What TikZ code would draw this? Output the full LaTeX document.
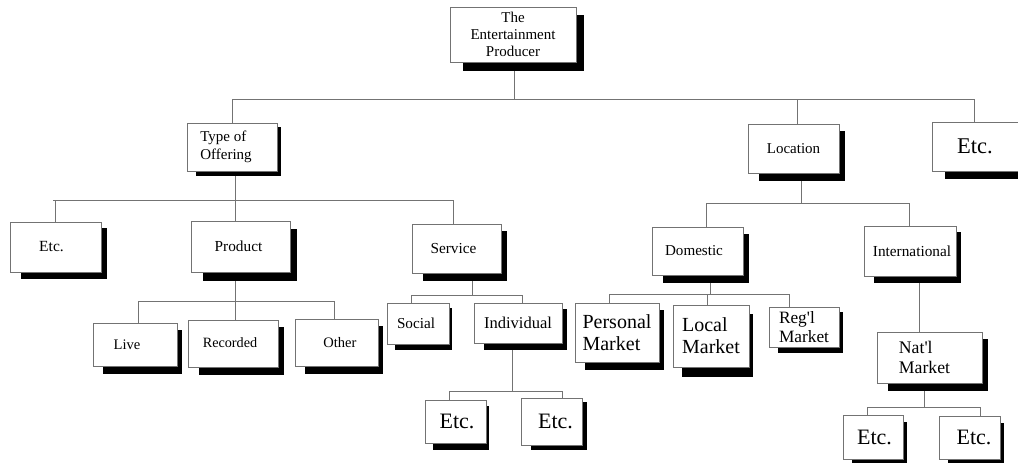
\documentclass[tikz,border=0pt]{standalone}
\usepackage{fontspec}
\setmainfont{Liberation Serif}
\newfontfamily\rawserif{Liberation Serif}
\pgfdeclarelayer{bg}
\pgfsetlayers{bg,main}
\newcommand\fsz[2]{\fontsize{#1}{#2}\selectfont}
\newcommand\shd[3]{\fill[black] ([xshift={#2+5}, yshift={-(#3-1)}]#1.north west) rectangle ([xshift=#2, yshift=-#3]#1.south east);}
\tikzset{
  bx/.style={draw=black!55, line width=0.9pt, fill=white, inner sep=0pt, align=center, font=\fsz{15}{17}},
  conn/.style={draw=black!55, line width=0.9pt},
}
\begin{document}
\begin{tikzpicture}[x=1pt,y=-1pt]
\useasboundingbox (0,0) rectangle (1018,463);

% nodes
\node[bx, minimum width=126, minimum height=55, font=\fsz{15}{16.7}] (top) at (513,34.5) {The\\Entertainment\\Producer};
\node[bx, minimum width=90, minimum height=48, align=left, font=\fsz{15}{18}] (type) at (232,147) {\hspace*{-12pt}Type of\\\hspace*{-12pt}Offering};
\node[bx, minimum width=91, minimum height=49] (location) at (793.5,148.5) {Location};
\node[bx, minimum width=90, minimum height=49, font=\fsz{22.5}{25}] (etcTR) at (977,146.5) {\hspace*{-4pt}Etc.};
\node[bx, minimum width=91, minimum height=50, font=\fsz{15.5}{17}] (etcL) at (55.5,247) {\hspace*{-8pt}Etc.};
\node[bx, minimum width=99, minimum height=51, font=\fsz{15.3}{17}] (product) at (240.5,246.5) {\hspace*{-4pt}Product};
\node[bx, minimum width=89, minimum height=49, font=\fsz{15.3}{17}] (service) at (456.5,248.5) {\hspace*{-6pt}Service};
\node[bx, minimum width=84, minimum height=43, font=\fsz{14.6}{17}] (live) at (135,344.5) {\hspace*{-16pt}Live};
\node[bx, minimum width=90, minimum height=47, font=\fsz{14.2}{17}] (recorded) at (233,343.5) {\hspace*{-6pt}\raisebox{1.5pt}{Recorded}};
\node[bx, minimum width=83, minimum height=47, font=\fsz{14.5}{17}] (other) at (336.5,342.5) {\hspace*{7pt}\raisebox{-3pt}{Other}};
\node[bx, minimum width=62, minimum height=41, font=\fsz{15.2}{17}] (social) at (418,323.5) {\hspace*{-4pt}Social};
\node[bx, minimum width=88, minimum height=40, font=\fsz{16.5}{18}] (individual) at (518,323) {Individual};
\node[bx, minimum width=61, minimum height=43, font=\fsz{22}{24}] (etcA) at (455.5,421.5) {\hspace*{3pt}Etc.};
\node[bx, minimum width=61, minimum height=47, font=\fsz{22}{24}] (etcB) at (551.5,421.5) {\hspace*{8pt}\raisebox{-5pt}{Etc.}};
\node[bx, minimum width=91, minimum height=48, font=\fsz{15.1}{17}] (domestic) at (697.5,251) {\hspace*{-7pt}Domestic};
\node[bx, minimum width=92, minimum height=50, font=\fsz{15.3}{17}] (international) at (910,251) {\hspace*{4pt}International};
\node[bx, minimum width=84, minimum height=59, align=left, font=\fsz{20}{22}] (personal) at (617,332.5) {Personal\\Market};
\node[bx, minimum width=76, minimum height=62, align=left, font=\fsz{20}{22}] (local) at (711,336) {Local\\Market};
\node[bx, minimum width=70, minimum height=40, align=left, font=\fsz{17.3}{19}] (regl) at (804,327) {{\rawserif Reg'l}\\Market};
\node[bx, minimum width=105, minimum height=51, align=left, font=\fsz{17.7}{20}] (natl) at (929.5,357.5) {{\rawserif Nat'l}\\Market\hspace*{10pt}};
\node[bx, minimum width=60, minimum height=44, font=\fsz{22}{24}] (etcBL) at (873,437) {\hspace*{3pt}Etc.};
\node[bx, minimum width=61, minimum height=43, font=\fsz{22}{24}] (etcBR) at (969.5,437.5) {\hspace*{9pt}\raisebox{-5pt}{Etc.}};

% junctions
\coordinate (j0) at (514,99);
\coordinate (jT) at (235,200);
\coordinate (jP) at (235,301);
\coordinate (jS) at (472,295);
\coordinate (jI) at (512,391);
\coordinate (jL) at (801,203);
\coordinate (jD) at (710,294);
\coordinate (jN) at (924,407);

\begin{pgfonlayer}{bg}
% connectors
\path[conn] (top.south -| j0) -- (j0);
\path[conn] (type.north) |- (j0);
\path[conn] ([xshift=3.5]location.north) |- (j0);
\path[conn] ([xshift=-3]etcTR.north) |- (j0);

\path[conn] (type.south -| jT) -- (jT);
\path[conn] (etcL.north) |- ([xshift=-3]jT -| etcL.north);
\path[conn] (etcL.north) |- (jT);
\path[conn] ([xshift=-5.5]product.north) |- (jT);
\path[conn] ([xshift=-3.5]service.north) |- (jT);

\path[conn] (product.south -| jP) -- (jP);
\path[conn] ([xshift=3]live.north) |- (jP);
\path[conn] ([xshift=2]recorded.north) |- (jP);
\path[conn] ([xshift=-2.5]other.north) |- (jP);

\path[conn] (service.south -| jS) -- (jS);
\path[conn] ([xshift=-7]social.north) |- (jS);
\path[conn] ([xshift=4]individual.north) |- (jS);

\path[conn] (individual.south -| jI) -- (jI);
\path[conn] ([xshift=-6.5]etcA.north) |- (jI);
\path[conn] ([xshift=10.5]etcB.north) |- (jI);

\path[conn] (location.south -| jL) -- (jL);
\path[conn] ([xshift=8.5]domestic.north) |- (jL);
\path[conn] ([xshift=-1]international.north) |- (jL);

\path[conn] (domestic.south -| jD) -- (jD);
\path[conn] ([xshift=-8]personal.north) |- (jD);
\path[conn] ([xshift=-4]local.north) |- (jD);
\path[conn] ([xshift=-15]regl.north) |- (jD);

\path[conn] ([xshift=9]international.south) -- ([xshift=-10.5]natl.north);

\path[conn] (natl.south -| jN) -- (jN);
\path[conn] ([xshift=-6]etcBL.north) |- (jN);
\path[conn] ([xshift=10.5]etcBR.north) |- (jN);

% shadows
\shd{top}{8}{9}
\shd{type}{4}{5}
\shd{location}{6}{8}
\shd{etcTR}{8}{8}
\shd{etcL}{6}{7}
\shd{product}{7}{9}
\shd{service}{6}{8}
\shd{live}{5}{8}
\shd{recorded}{6}{8}
\shd{other}{5}{8}
\shd{social}{3}{6}
\shd{individual}{5}{7}
\shd{etcA}{3}{7}
\shd{etcB}{5}{5}
\shd{domestic}{6}{8}
\shd{international}{5}{7}
\shd{personal}{5}{8}
\shd{local}{4}{10}
\shd{regl}{4}{6}
\shd{natl}{6}{8}
\shd{etcBL}{4}{8}
\shd{etcBR}{4}{8}
\end{pgfonlayer}
\end{tikzpicture}
\end{document}
